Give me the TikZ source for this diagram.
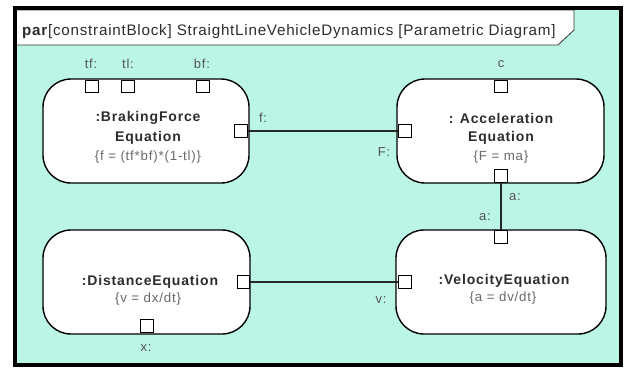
\documentclass[tikz,border=0pt]{standalone}
\usepackage{fontspec}
\setmainfont{Liberation Sans}
\newfontfamily\spaced[LetterSpace=6]{Liberation Sans}
\newfontfamily\titlefam[LetterSpace=5]{Liberation Sans}
\definecolor{mint}{RGB}{186,245,229}
\definecolor{inktext}{RGB}{45,45,45}
\definecolor{formtext}{RGB}{105,105,105}
\definecolor{labtext}{RGB}{85,85,85}
\definecolor{wire}{RGB}{40,40,40}
\begin{document}
\begin{tikzpicture}[x=1pt,y=-1pt,
  block/.style={draw=black, fill=white, line width=1.4pt, rounded corners=28pt, inner sep=0pt},
  port/.style={draw=black, fill=white, line width=1.3pt, minimum size=12.5pt, inner sep=0pt},
  btitle/.style={font=\spaced\bfseries\fontsize{14}{16}\selectfont, text=inktext, inner sep=0pt},
  bform/.style={font=\spaced\fontsize{13.3}{15}\selectfont, text=formtext, inner sep=0pt},
  plabel/.style={font=\spaced\fontsize{13}{15}\selectfont, text=labtext, inner sep=0pt},
  wireline/.style={draw=wire, line width=1.5pt}]
\useasboundingbox (0,0) rectangle (629,368);
\fill[white] (0,0) rectangle (629,368);
% diagram frame
\fill[mint] (14.5,8) rectangle (620.5,364.5);
\draw[fill=white, draw=black!80, line width=0.8pt]
  (16.5,10) -- (574,10) -- (574,30) -- (558,45) -- (16.5,45) -- cycle;
\node[anchor=base west, inner sep=0pt, font=\titlefam\fontsize{15.2}{17}\selectfont, text=inktext]
  (title) at (22,35) {\textbf{par}[constraintBlock] StraightLineVehicleDynamics [Parametric Diagram]};
\draw[black, line width=4pt] (14.5,8) rectangle (620.5,364.5);

% constraint blocks
\node[block, minimum width=206pt, minimum height=104pt] (brk) at (146,131) {};
\node[block, minimum width=207pt, minimum height=104pt] (acc) at (500.5,131) {};
\node[block, minimum width=207pt, minimum height=104pt] (dst) at (146.5,282) {};
\node[block, minimum width=210pt, minimum height=104pt] (vel) at (501,282) {};

\node[btitle] (brkA) at (148,118) {:BrakingForce};
\node[btitle] (brkB) at (148,137.5) {Equation};
\node[bform]  (brkC) at (148,157) {\{f = (tf*bf)*(1-tl)\}};

\node[btitle] (accA) at (501,118) {: Acceleration};
\node[btitle] (accB) at (501,137.5) {Equation};
\node[bform]  (accC) at (501,157) {\{F = ma\}};

\node[btitle] (dstA) at (150,282) {:DistanceEquation};
\node[bform]  (dstB) at (148,299) {\{v = dx/dt\}};

\node[btitle] (velA) at (504,281) {:VelocityEquation};
\node[bform]  (velB) at (503,298) {\{a = dv/dt\}};

% constraint parameters
\node[port] (ptf) at (92,86.5) {};
\node[port] (ptl) at (128,86.5) {};
\node[port] (pbf) at (203,86.5) {};
\node[port] (pf)  at (241,131) {};
\node[port] (pc)  at (501,86.5) {};
\node[port] (pF)  at (405,131) {};
\node[port] (pa1) at (501,176) {};
\node[port] (pa2) at (501,237) {};
\node[port] (pv)  at (405,282) {};
\node[port] (pdv) at (243.5,282) {};
\node[port] (px)  at (147,326) {};

% parameter names
\node[plabel] (ltf) at (91,64) {tf:};
\node[plabel] (ltl) at (128,64) {tl:};
\node[plabel] (lbf) at (202,64) {bf:};
\node[plabel] (lf)  at (263,118) {f:};
\node[plabel] (lc)  at (501,64) {c};
\node[plabel] (lF)  at (384,152) {F:};
\node[plabel] (la1) at (515,197) {a:};
\node[plabel] (la2) at (485,217) {a:};
\node[plabel] (lv)  at (381,300) {v:};
\node[plabel] (lx)  at (146,348) {x:};

% binding connectors
\draw[wireline] (pf.east) -- (pF.west);
\draw[wireline] (pa1.south) -- (pa2.north);
\draw[wireline] (pdv.east) -- (pv.west);
\end{tikzpicture}
\end{document}
